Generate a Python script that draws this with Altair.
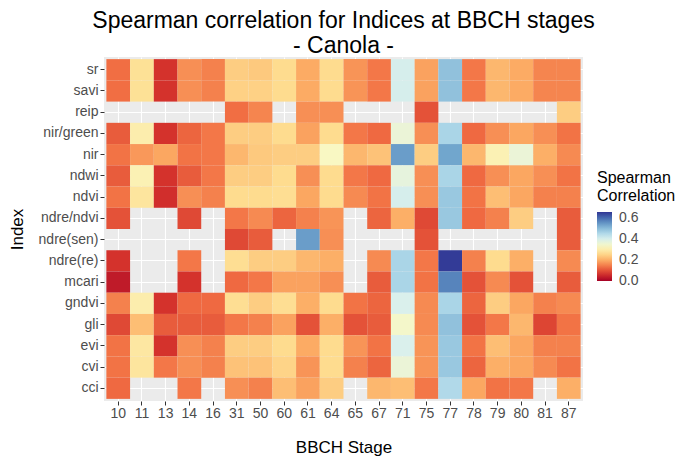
import altair as alt
import pandas as pd

stages = ["10", "11", "13", "14", "16", "31", "50", "60", "61", "64",
          "65", "67", "71", "75", "77", "78", "79", "80", "81", "87"]
indices = ["sr", "savi", "reip", "nir/green", "nir", "ndwi", "ndvi", "ndre/ndvi",
           "ndre(sen)", "ndre(re)", "mcari", "gndvi", "gli", "evi", "cvi", "cci"]

N = None
v_sr        = [0.13, 0.27, 0.065, 0.165, 0.15, 0.24, 0.235, 0.26, 0.195, 0.26, 0.17, 0.14, 0.40, 0.185, 0.49, 0.14, 0.21, 0.195, 0.155, 0.155]
v_savi      = [0.13, 0.27, 0.065, 0.165, 0.15, 0.245, 0.245, 0.26, 0.195, 0.26, 0.17, 0.14, 0.40, 0.185, 0.49, 0.14, 0.21, 0.195, 0.155, 0.155]
v_reip      = [N, N, N, N, N, 0.13, 0.155, N, 0.165, 0.165, N, N, N, 0.10, N, N, N, N, N, 0.24]
v_nirgreen  = [0.11, 0.30, 0.065, 0.12, 0.14, 0.24, 0.24, 0.26, 0.185, 0.26, 0.14, 0.125, 0.36, 0.165, 0.46, 0.125, 0.165, 0.19, 0.165, 0.135]
v_nir       = [0.135, 0.175, 0.19, 0.135, 0.14, 0.21, 0.235, 0.24, 0.24, 0.33, 0.21, 0.225, 0.54, 0.24, 0.53, 0.21, 0.31, 0.36, 0.20, 0.16]
v_ndwi      = [0.11, 0.31, 0.065, 0.11, 0.14, 0.24, 0.24, 0.26, 0.165, 0.26, 0.14, 0.125, 0.37, 0.165, 0.46, 0.125, 0.165, 0.19, 0.165, 0.135]
v_ndvi      = [0.135, 0.28, 0.06, 0.165, 0.15, 0.26, 0.26, 0.265, 0.19, 0.26, 0.16, 0.135, 0.40, 0.165, 0.48, 0.135, 0.22, 0.19, 0.15, 0.15]
v_ndrendvi  = [0.10, N, N, 0.09, N, 0.14, 0.16, 0.12, 0.15, 0.17, N, 0.12, 0.20, 0.09, 0.48, 0.125, 0.15, 0.24, N, 0.11]
v_ndresen   = [N, N, N, N, N, 0.09, 0.11, N, 0.54, 0.165, N, N, N, 0.10, N, N, N, N, N, 0.11]
v_ndrere    = [0.065, N, N, 0.14, N, 0.265, 0.24, 0.24, 0.21, 0.20, N, 0.16, 0.46, 0.14, 0.65, 0.15, 0.26, 0.20, N, 0.16]
v_mcari     = [0.035, N, N, 0.065, N, 0.125, 0.14, 0.185, 0.185, 0.165, N, 0.11, 0.46, 0.135, 0.57, 0.10, 0.16, 0.10, N, 0.11]
v_gndvi     = [0.15, 0.30, 0.065, 0.125, 0.125, 0.265, 0.24, 0.265, 0.20, 0.26, 0.135, 0.12, 0.395, 0.16, 0.46, 0.12, 0.24, 0.19, 0.15, 0.16]
v_gli       = [0.09, 0.22, 0.11, 0.11, 0.11, 0.14, 0.15, 0.185, 0.10, 0.20, 0.10, 0.11, 0.34, 0.16, 0.49, 0.10, 0.14, 0.21, 0.085, 0.135]
v_evi       = [0.135, 0.285, 0.065, 0.165, 0.15, 0.24, 0.24, 0.26, 0.195, 0.26, 0.17, 0.135, 0.395, 0.17, 0.48, 0.135, 0.22, 0.19, 0.15, 0.15]
v_cvi       = [0.135, 0.28, 0.14, 0.165, 0.15, 0.225, 0.225, 0.25, 0.17, 0.26, 0.15, 0.12, 0.36, 0.17, 0.48, 0.12, 0.20, 0.19, 0.16, 0.135]
v_cci       = [0.125, N, N, 0.14, N, 0.165, 0.15, 0.22, 0.185, 0.24, N, 0.21, 0.22, 0.14, 0.45, 0.19, 0.135, 0.14, N, 0.20]

rows = [v_sr, v_savi, v_reip, v_nirgreen, v_nir, v_ndwi, v_ndvi, v_ndrendvi,
        v_ndresen, v_ndrere, v_mcari, v_gndvi, v_gli, v_evi, v_cvi, v_cci]

records = []
for name, vals in zip(indices, rows):
    for st, v in zip(stages, vals):
        if v is not None:
            records.append({"Index": name, "Stage": st, "Spearman": v})
df = pd.DataFrame(records)

FONT = "Liberation Sans"

chart = alt.Chart(df).mark_rect().encode(
    x=alt.X("Stage:N", sort=stages, title="BBCH Stage",
            scale=alt.Scale(domain=stages, paddingInner=0, paddingOuter=0.1),
            axis=alt.Axis(labelAngle=0, bandPosition=0.5, grid=True, zindex=0,
                          titlePadding=19, labelPadding=1)),
    y=alt.Y("Index:N", sort=indices, title="Index",
            scale=alt.Scale(domain=indices, paddingInner=0, paddingOuter=0.1),
            axis=alt.Axis(bandPosition=0.5, grid=True, zindex=0, titlePadding=12)),
    color=alt.Color("Spearman:Q",
                    scale=alt.Scale(scheme="redyellowblue", domain=[-0.001, 0.655]),
                    legend=alt.Legend(title=["Spearman", "Correlation"],
                                      orient="none", legendX=493, legendY=113,
                                      gradientLength=69, gradientThickness=15,
                                      values=[0, 0.2, 0.4, 0.6], format=".1f",
                                      labelOverlap=False,
                                      titleFontSize=16, titleFontWeight="normal",
                                      titleColor="black", titleFont=FONT,
                                      titleLineHeight=18,
                                      labelFontSize=14, labelColor="#4D4D4D",
                                      labelFont=FONT, titlePadding=8, labelOffset=7)),
).properties(
    width=479, height=344,
    title=alt.TitleParams(["Spearman correlation for Indices at BBCH stages", "- Canola -"],
                          anchor="middle", fontSize=23, fontWeight="normal",
                          font=FONT, color="black", offset=-1, lineHeight=25),
    autosize=alt.AutoSizeParams(type="none"),
    padding={"left": 96, "top": 49, "right": 94, "bottom": 58},
).configure_view(
    fill="#EBEBEB", stroke=None
).configure_axis(
    gridColor="white", gridWidth=1.1, domain=False,
    tickColor="#333333", tickSize=4, labelColor="#4D4D4D",
    labelFontSize=14, labelFont=FONT, labelPadding=2,
    titleFont=FONT, titleFontSize=17, titleFontWeight="normal", titleColor="black"
)

chart.save("out.html", embed_options={"renderer": "svg", "actions": False})
